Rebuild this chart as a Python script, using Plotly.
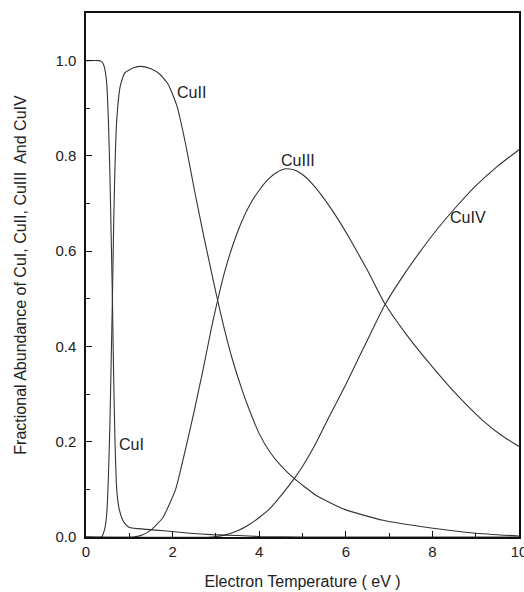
import plotly.graph_objects as go

# Electron temperature (eV) sample points and fractional abundances
cu1_x = [0, 0.30, 0.36, 0.40, 0.44, 0.48, 0.515, 0.55, 0.58, 0.61, 0.64, 0.67, 0.70, 0.73,
         0.77, 0.85, 0.92, 1.0, 1.4, 1.8, 2.4, 2.9, 3.5, 4.0, 5.0, 10.0]
cu1_y = [1.0, 1.0, 0.998, 0.993, 0.98, 0.95, 0.88, 0.77, 0.64, 0.50, 0.33, 0.20, 0.115, 0.08,
         0.057, 0.035, 0.026, 0.02, 0.016, 0.013, 0.008, 0.005, 0.003, 0.001, 0.0, 0.0]

cu2_x = [0, 0.36, 0.44, 0.48, 0.515, 0.55, 0.58, 0.61, 0.64, 0.67, 0.70, 0.73, 0.77, 0.80,
         0.90, 1.1, 1.28, 1.5, 1.7, 1.9, 2.1, 2.3, 2.5, 2.7, 2.9, 3.04, 3.2, 3.39, 3.6, 3.78,
         4.0, 4.25, 4.5, 4.82, 5.32, 5.97, 6.86, 7.97, 9.0, 10.0]
cu2_y = [0.0, 0.0, 0.02, 0.05, 0.12, 0.23, 0.36, 0.50, 0.66, 0.78, 0.86, 0.90, 0.935, 0.95,
         0.975, 0.985, 0.988, 0.983, 0.972, 0.95, 0.905, 0.825, 0.73, 0.64, 0.555, 0.497, 0.435,
         0.37, 0.31, 0.265, 0.217, 0.178, 0.15, 0.122, 0.087, 0.058, 0.035, 0.019, 0.008, 0.002]

cu3_x = [0, 1.1, 1.3, 1.5, 1.77, 2.07, 2.3, 2.5, 2.7, 2.9, 3.04, 3.2, 3.4, 3.6, 3.8, 4.0,
         4.2, 4.4, 4.6, 4.8, 5.0, 5.2, 5.46, 5.8, 6.08, 6.5, 6.9, 7.4, 8.02, 8.6, 9.16, 9.6, 10.0]
cu3_y = [0.0, 0.0, 0.004, 0.015, 0.04, 0.10, 0.185, 0.265, 0.35, 0.44, 0.497, 0.556, 0.615,
         0.663, 0.70, 0.728, 0.75, 0.765, 0.773, 0.771, 0.761, 0.744, 0.715, 0.67, 0.628, 0.56,
         0.49, 0.425, 0.355, 0.295, 0.245, 0.213, 0.19]

cu4_x = [0, 2.9, 3.2, 3.5, 3.8, 4.0, 4.24, 4.55, 4.82, 5.0, 5.3, 5.6, 6.0, 6.4, 6.9, 7.3,
         7.7, 8.1, 8.5, 9.0, 9.5, 10.0]
cu4_y = [0.0, 0.0, 0.004, 0.013, 0.028, 0.041, 0.059, 0.092, 0.124, 0.148, 0.195, 0.25,
         0.32, 0.395, 0.487, 0.545, 0.597, 0.645, 0.688, 0.737, 0.778, 0.813]

series = [("CuI", cu1_x, cu1_y), ("CuII", cu2_x, cu2_y),
          ("CuIII", cu3_x, cu3_y), ("CuIV", cu4_x, cu4_y)]

label_text = ["CuII", "CuIII", "CuIV", "CuI"]
label_x = [2.44, 4.9, 8.83, 1.05]
label_y = [0.933, 0.79, 0.67, 0.195]

x_ticks = [0, 2, 4, 6, 8, 10]
y_ticks = [0.0, 0.2, 0.4, 0.6, 0.8, 1.0]

FONT = "Liberation Sans, Arial, sans-serif"
LINE = "#333333"

fig = go.Figure()
for name, xs, ys in series:
    fig.add_trace(go.Scatter(x=xs, y=ys, mode="lines", name=name,
                             line=dict(color=LINE, width=1.1, shape="spline", smoothing=0.5),
                             showlegend=False, hoverinfo="skip"))

for t, x, y in zip(label_text, label_x, label_y):
    fig.add_annotation(x=x, y=y, text=t, showarrow=False,
                       font=dict(family=FONT, size=16, color="#222"))

axis_common = dict(showline=True, linecolor="#111", linewidth=1.5, mirror=True,
                   ticks="inside", ticklen=6, tickwidth=1.3, tickcolor="#111",
                   showgrid=False, zeroline=False, automargin=False,
                   ticklabeloverflow="allow",
                   tickfont=dict(family=FONT, size=15, color="#222"))

fig.update_xaxes(range=[0, 10], tickvals=x_ticks,
                 minor=dict(dtick=1, ticks="inside", ticklen=4, tickcolor="#111", tickwidth=1.2),
                 title=dict(text="Electron Temperature ( eV )", standoff=17,
                            font=dict(family=FONT, size=16, color="#222")),
                 **axis_common)
fig.update_yaxes(range=[0, 1.1], tickvals=y_ticks, tickformat=".1f",
                 minor=dict(dtick=0.1, ticks="inside", ticklen=4, tickcolor="#111", tickwidth=1.2),
                 ticklabelstandoff=5,
                 title=dict(text="Fractional Abundance of CuI, CuII, CuIII\u00a0 And CuIV", standoff=25,
                            font=dict(family=FONT, size=16, color="#222")),
                 **axis_common)

fig.update_layout(width=524, height=592, margin=dict(l=86, r=5, t=13, b=55),
                  paper_bgcolor="white", plot_bgcolor="white")

# remove the default page margin so the figure fills the window exactly
fig.write_html("out.html", config={"displayModeBar": False},
               post_script="document.body.style.margin='0';document.body.style.overflow='hidden';")
